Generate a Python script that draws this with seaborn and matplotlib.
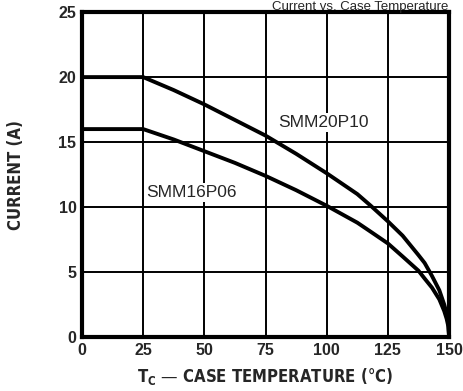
import matplotlib.pyplot as plt
import seaborn as sns
import pandas as pd

sns.set_theme(style="white")
plt.rcParams['font.family'] = ['Liberation Sans', 'DejaVu Sans']

# 讀圖取得的數據點
temp = [0, 25, 37.5, 50, 62.5, 75, 87.5, 100, 112.5, 118, 125, 131, 137.5,
        140, 143, 146, 148, 149, 149.7, 150]
curr_20p10 = [20, 20, 19.0, 17.9, 16.7, 15.5, 14.1, 12.6, 11.0, 10.1, 8.9,
              7.8, 6.3, 5.7, 4.7, 3.6, 2.5, 1.8, 1.0, 0]
curr_16p06 = [16, 16, 15.2, 14.3, 13.4, 12.4, 11.3, 10.1, 8.8, 8.1, 7.2,
              6.2, 5.1, 4.5, 3.8, 2.9, 2.0, 1.4, 0.8, 0]

df = pd.concat([
    pd.DataFrame({'T': temp, 'I': curr_20p10, 'part': 'SMM20P10'}),
    pd.DataFrame({'T': temp, 'I': curr_16p06, 'part': 'SMM16P06'}),
])

fig = plt.figure(figsize=(4.63, 3.91), dpi=100)
ax = fig.add_axes([0.177, 0.138, 0.793, 0.831])

sns.lineplot(data=df, x='T', y='I', hue='part', palette=['black', 'black'],
             linewidth=2.8, legend=False, ax=ax, sort=False)

ax.set_xlim(0, 150)
ax.set_ylim(0, 25)
ax.set_xticks(range(0, 151, 25))
ax.set_yticks(range(0, 26, 5))
ax.grid(True, color='black', linewidth=1.4)
for s in ax.spines.values():
    s.set_color('black')
    s.set_linewidth(3)
ax.tick_params(length=0, labelsize=11.5, pad=4)
for lab in ax.get_xticklabels() + ax.get_yticklabels():
    lab.set_fontweight('bold')

# 軸標題用窄體字
ax.set_xlabel('T$_\\mathregular{C}$ — CASE TEMPERATURE (°C)', fontsize=12,
              fontweight='bold', family='DejaVu Sans', fontstretch='condensed',
              labelpad=6)
ax.set_ylabel('CURRENT (A)', fontsize=12, fontweight='bold',
              family='DejaVu Sans', fontstretch='condensed', labelpad=24)

# 曲線標籤（白底遮住格線）
box = dict(facecolor='white', edgecolor='none', pad=1.5)
ax.text(98.5, 16.5, 'SMM20P10', ha='center', va='center', fontsize=12.5,
        bbox=box)
ax.text(44.8, 11.15, 'SMM16P06', ha='center', va='center', fontsize=12.5,
        bbox=box)

fig.text(0.968, 0.998, 'Current vs. Case Temperature', ha='right',
         va='top', fontsize=9.5)

fig.savefig('out.png', dpi=100)
